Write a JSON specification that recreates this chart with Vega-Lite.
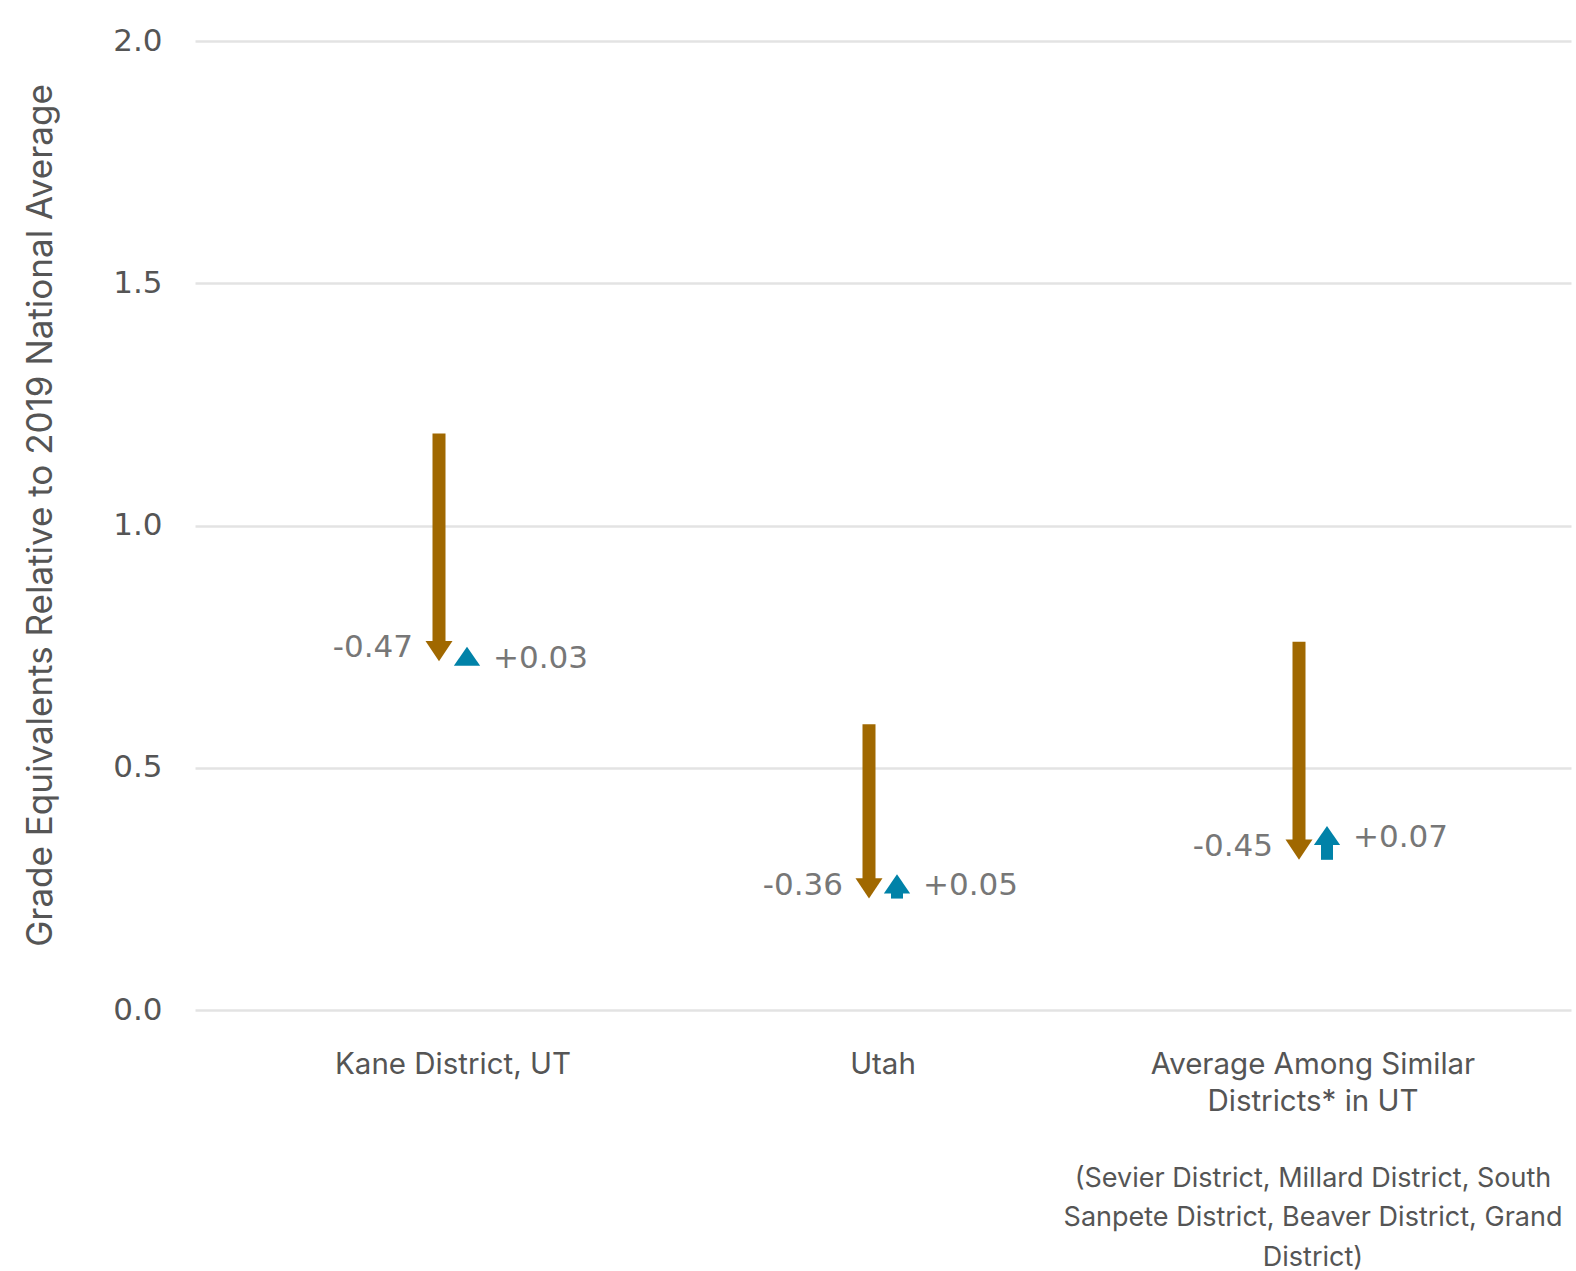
{
  "$schema": "https://vega.github.io/schema/vega-lite/v6.json",
  "autosize": "none",
  "width": 1376,
  "height": 969,
  "padding": {"left": 195, "top": 41, "right": 5, "bottom": 261},
  "background": "white",
  "config": {
    "view": {"stroke": null},
    "font": "Inter"
  },
  "datasets": {
    "arrows": [
      {"category": "Kane District, UT", "series": "decline", "start": 1.19, "end": 0.72, "label": "-0.47"},
      {"category": "Kane District, UT", "series": "recovery", "start": 0.72, "end": 0.75, "label": "+0.03"},
      {"category": "Utah", "series": "decline", "start": 0.59, "end": 0.23, "label": "-0.36"},
      {"category": "Utah", "series": "recovery", "start": 0.23, "end": 0.28, "label": "+0.05"},
      {"category": "Average Among Similar Districts* in UT", "series": "decline", "start": 0.76, "end": 0.31, "label": "-0.45"},
      {"category": "Average Among Similar Districts* in UT", "series": "recovery", "start": 0.31, "end": 0.38, "label": "+0.07"}
    ],
    "note": [
      {"category": "Average Among Similar Districts* in UT", "pos": -0.321, "text": ["(Sevier District, Millard District, South", "Sanpete District, Beaver District, Grand", "District)"]}
    ]
  },
  "encoding": {
    "x": {
      "field": "category",
      "type": "nominal",
      "sort": ["Kane District, UT", "Utah", "Average Among Similar Districts* in UT"],
      "scale": {"domain": ["Kane District, UT", "Utah", "Average Among Similar Districts* in UT"], "paddingInner": 0, "paddingOuter": 0.1},
      "axis": {
        "title": null,
        "labelAngle": 0,
        "domain": false,
        "ticks": false,
        "labelFont": "Inter",
        "labelFontSize": 29.5,
        "labelColor": "#555555",
        "labelPadding": 40,
        "labelLineHeight": 37,
        "labelLimit": 600,
        "labelExpr": "datum.value == 'Average Among Similar Districts* in UT' ? ['Average Among Similar', 'Districts* in UT'] : datum.value"
      }
    }
  },
  "layer": [
    {
      "data": {"name": "arrows"},
      "transform": [{"filter": "datum.series == 'decline'"}],
      "mark": {"type": "rule", "color": "#A06800", "strokeWidth": 13, "strokeCap": "butt", "xOffset": -14, "y2Offset": -19},
      "encoding": {
        "y": {
          "field": "start",
          "type": "quantitative",
          "scale": {"domain": [0, 2]},
          "axis": {
            "values": [0, 0.5, 1, 1.5, 2],
            "format": ".1f",
            "domain": false,
            "ticks": false,
            "grid": true,
            "gridColor": "#e3e3e3",
            "gridWidth": 2.5,
            "labelFont": "DejaVu Sans",
            "labelFontSize": 31,
            "labelColor": "#555555",
            "labelPadding": 33,
            "title": "Grade Equivalents Relative to 2019 National Average",
            "titleFont": "Inter",
            "titleFontSize": 35,
            "titleFontWeight": "normal",
            "titleColor": "#555555",
            "titlePadding": 54,
            "titleY": 474
          }
        },
        "y2": {"field": "end"}
      }
    },
    {
      "data": {"name": "arrows"},
      "transform": [{"filter": "datum.series == 'decline'"}],
      "mark": {"type": "point", "shape": "M -1 -1.5 L 1 -1.5 L 0 0 Z", "size": 729, "filled": true, "color": "#A06800", "opacity": 1, "strokeWidth": 0, "xOffset": -14},
      "encoding": {
        "y": {"field": "end", "type": "quantitative"}
      }
    },
    {
      "data": {"name": "arrows"},
      "transform": [{"filter": "datum.series == 'recovery'"}],
      "mark": {"type": "rule", "color": "#0082A8", "strokeWidth": 12, "strokeCap": "butt", "xOffset": 14, "y2Offset": 18},
      "encoding": {
        "y": {"field": "start", "type": "quantitative"},
        "y2": {"field": "end"}
      }
    },
    {
      "data": {"name": "arrows"},
      "transform": [{"filter": "datum.series == 'recovery'"}],
      "mark": {"type": "point", "shape": "M -1 1.45 L 1 1.45 L 0 0 Z", "size": 690, "filled": true, "color": "#0082A8", "opacity": 1, "strokeWidth": 0, "xOffset": 14},
      "encoding": {
        "y": {"field": "end", "type": "quantitative"}
      }
    },
    {
      "data": {"name": "arrows"},
      "transform": [{"filter": "datum.series == 'decline'"}],
      "mark": {"type": "text", "font": "DejaVu Sans", "fontSize": 31, "color": "#777777", "align": "right", "baseline": "middle", "xOffset": -14, "dx": -26, "dy": -13},
      "encoding": {
        "y": {"field": "end", "type": "quantitative"},
        "text": {"field": "label"}
      }
    },
    {
      "data": {"name": "arrows"},
      "transform": [{"filter": "datum.series == 'recovery'"}],
      "mark": {"type": "text", "font": "DejaVu Sans", "fontSize": 31, "color": "#777777", "align": "left", "baseline": "middle", "xOffset": 14, "dx": 26, "dy": 12},
      "encoding": {
        "y": {"field": "end", "type": "quantitative"},
        "text": {"field": "label"}
      }
    },
    {
      "data": {"name": "note"},
      "mark": {"type": "text", "font": "Inter", "fontSize": 27, "color": "#555555", "align": "center", "baseline": "top", "lineHeight": 39.5, "clip": false},
      "encoding": {
        "y": {"field": "pos", "type": "quantitative"},
        "text": {"field": "text"}
      }
    }
  ]
}
